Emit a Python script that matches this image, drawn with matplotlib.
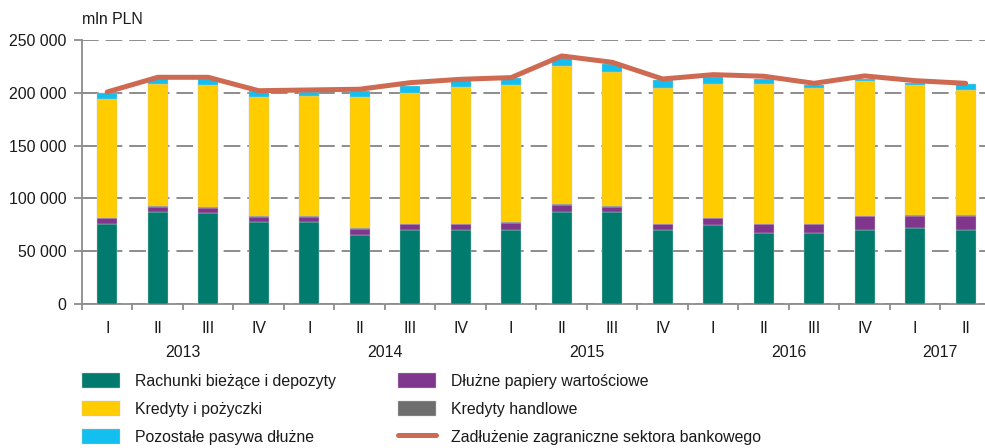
import matplotlib
matplotlib.use('Agg')
import matplotlib.pyplot as plt
from matplotlib.lines import Line2D

# Fonts (Arial-like)
plt.rcParams['font.family'] = ['Liberation Sans', 'DejaVu Sans']
plt.rcParams['font.size'] = 11.4
plt.rcParams['lines.scale_dashes'] = False

# Quarters and years
quarters = ['I', 'II', 'III', 'IV', 'I', 'II', 'III', 'IV', 'I', 'II', 'III', 'IV',
            'I', 'II', 'III', 'IV', 'I', 'II']
years = ['2013', '2014', '2015', '2016', '2017']
year_pos = [1.5, 5.5, 9.5, 13.5, 16.5]

# Components of foreign debt (mln PLN)
rachunki = [75700, 87000, 86100, 77600, 77600, 65800, 70300, 70300, 70300,
            87000, 87000, 70300, 74700, 67200, 67200, 70300, 71900, 70300]
dluzne = [5700, 5300, 5000, 5000, 5000, 5400, 5400, 5400, 6600,
          6900, 5300, 5400, 6300, 8500, 8500, 12600, 11900, 13500]
handlowe = [500] * 18
kredyty = [112600, 115600, 115600, 113000, 114200, 124400, 123700, 129400, 129800,
           131000, 126900, 128100, 126900, 132200, 128100, 127800, 122900, 118400]
pozostale = [5400, 5400, 5600, 5700, 3200, 5700, 6900, 5400, 6900,
             8200, 7600, 7900, 6900, 4700, 2900, 1900, 1800, 5700]

# Total foreign debt of the banking sector
zadluzenie = [200800, 214700, 214700, 202000, 202700, 203400, 209600, 212800, 214400,
              234900, 228900, 213100, 217200, 215700, 209000, 216000, 211500, 209000]

y_ticks = [0, 50000, 100000, 150000, 200000, 250000]
y_labels = ['0', '50 000', '100 000', '150 000', '200 000', '250 000']

series = [
    ('Rachunki bieżące i depozyty', rachunki, '#007b6e'),
    ('Dłużne papiery wartościowe', dluzne, '#80368c'),
    ('Kredyty handlowe', handlowe, '#6e6e6e'),
    ('Kredyty i pożyczki', kredyty, '#ffcc00'),
    ('Pozostałe pasywa dłużne', pozostale, '#12bfef'),
]

fig = plt.figure(figsize=(9.85, 4.48), dpi=100)
ax = fig.add_axes([0.0832, 0.3214, 0.9228, 0.5893])

x = list(range(len(quarters)))
bottom = [0] * len(x)
bars = {}
for name, vals, color in series:
    bars[name] = ax.bar(x, vals, width=0.4, bottom=bottom, color=color,
                        edgecolor='#c8c8c8', linewidth=0.3, zorder=3, label=name)
    bottom = [b + v for b, v in zip(bottom, vals)]

line, = ax.plot(x, zadluzenie, color='#cf6a52', lw=3.6, solid_capstyle='round',
                solid_joinstyle='round', zorder=4)

# Axes styling
ax.set_xlim(-0.5, len(x) - 0.5)
ax.set_ylim(0, 250000)
ax.set_yticks(y_ticks)
ax.set_yticklabels(y_labels)
ax.yaxis.grid(True, color='#8c8c8c', linewidth=1.4, linestyle=(0, (12, 5)), zorder=0)
for s in ['top', 'right']:
    ax.spines[s].set_visible(False)
ax.spines['left'].set_color('#8c8c8c')
ax.spines['bottom'].set_color('#8c8c8c')
ax.spines['left'].set_linewidth(1.3)
ax.spines['bottom'].set_linewidth(1.3)
ax.tick_params(axis='y', length=6, width=1.3, color='#8c8c8c', pad=5, labelcolor='#1a1a1a')

ax.set_xticks(x)
ax.set_xticklabels(quarters)
ax.set_xticks([i - 0.5 for i in range(len(x) + 1)], minor=True)
ax.tick_params(axis='x', which='major', length=0, pad=12, labelcolor='#1a1a1a')
ax.tick_params(axis='x', which='minor', length=4, width=1.3, color='#8c8c8c')

for pos, yr in zip(year_pos, years):
    ax.text(pos, -0.182, yr, transform=ax.get_xaxis_transform(), ha='center',
            va='center', color='#1a1a1a')

fig.text(0.0832, 1 - 20 / 448, 'mln PLN', ha='left', va='center', color='#1a1a1a')

# Legend (column-wise fill)
line_handle = Line2D([], [], color='#cf6a52', lw=3.6, solid_capstyle='round')
handles = [bars['Rachunki bieżące i depozyty'], bars['Kredyty i pożyczki'],
           bars['Pozostałe pasywa dłużne'], bars['Dłużne papiery wartościowe'],
           bars['Kredyty handlowe'], line_handle]
labels = ['Rachunki bieżące i depozyty', 'Kredyty i pożyczki', 'Pozostałe pasywa dłużne',
          'Dłużne papiery wartościowe', 'Kredyty handlowe',
          'Zadłużenie zagraniczne sektora bankowego']
fig.legend(handles, labels, ncol=2, loc='upper left', bbox_to_anchor=(82 / 985, 1 - 373 / 448),
           frameon=False, borderpad=0, borderaxespad=0, handlelength=2.4, handleheight=1.1,
           handletextpad=0.95, columnspacing=3.9, labelspacing=0.75, labelcolor='#1a1a1a')

fig.savefig('out.png', dpi=100)
